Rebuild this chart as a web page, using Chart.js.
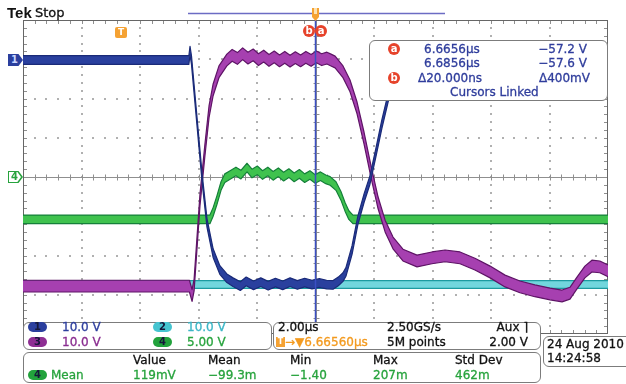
<!DOCTYPE html>
<html>
<head>
<meta charset="utf-8">
<title>Tek scope capture</title>
<script src="https://cdn.jsdelivr.net/npm/chart.js@4.4.1/dist/chart.umd.min.js"></script>
<style>
body { margin: 0; background: #fff; }
#wrap { position: relative; width: 626px; height: 384px; overflow: hidden; font-family: "DejaVu Sans", sans-serif; font-size: 12px; color: #111; }
#scope { position: absolute; left: 0; top: 0; }
.box { position: absolute; background: #fff; border: 1px solid #7c7c7c; border-radius: 6px; box-sizing: border-box; }
.t { position: absolute; white-space: nowrap; line-height: 14px; height: 14px; -webkit-text-stroke: 0.3px currentColor; }
.pill { position: absolute; width: 19px; height: 10px; border-radius: 5px; font-size: 10px; line-height: 10px; text-align: center; font-weight: bold; color: #15173a; }
.dot { position: absolute; width: 12px; height: 12px; border-radius: 6px; background: #e6432b; color: #fff; font-size: 10px; line-height: 12px; text-align: center; font-weight: bold; }
.cur { color: #2f3d9c; }
.tag { position: absolute; width: 15px; height: 12px; clip-path: polygon(0 0, 70% 0, 100% 50%, 70% 100%, 0 100%); }
.tag span { position: absolute; left: 2px; top: 0; width: 9px; font-size: 10px; line-height: 12px; font-weight: bold; text-align: center; }
</style>
</head>
<body>
<div id="wrap">
<canvas id="scope" width="626" height="384"></canvas>

<div class="t" style="left:7px;top:5px;font:bold 15px 'Liberation Sans';line-height:16px;-webkit-text-stroke:0">Tek</div>
<div class="t" style="left:35px;top:5px;font-size:13px;line-height:16px">Stop</div>

<div id="trig" style="position:absolute;width:12px;height:11px;border-radius:2px;background:#f5a233;color:#fff;font-size:9px;line-height:11px;text-align:center;font-weight:bold">T</div>
<div id="dotB" class="dot">b</div>
<div id="dotA" class="dot">a</div>
<div id="tag1" class="tag" style="background:#2b3f9e"><span style="color:#c9d6ff">1</span></div>
<div id="tag4" class="tag" style="background:#27a33d"><div class="tag" style="left:1px;top:1px;width:12px;height:10px;background:#fff"></div><span style="color:#27a33d">4</span></div>

<!-- cursor readout -->
<div class="box" style="left:369px;top:40px;width:239px;height:61px"></div>
<div class="dot" style="left:388px;top:43px">a</div>
<div class="t cur" style="left:424px;top:42px">6.6656µs</div>
<div class="t cur" style="right:39px;top:42px">−57.2 V</div>
<div class="t cur" style="left:424px;top:56px">6.6856µs</div>
<div class="t cur" style="right:39px;top:56px">−57.6 V</div>
<div class="dot" style="left:388px;top:72px">b</div>
<div class="t cur" style="left:418px;top:71px">Δ20.000ns</div>
<div class="t cur" style="right:36px;top:71px">Δ400mV</div>
<div class="t cur" style="left:450px;top:85px">Cursors Linked</div>

<!-- channel settings -->
<div class="box" style="left:23px;top:322px;width:249px;height:28px"></div>
<div class="pill" style="left:28px;top:322px;background:#2b3f9e">1</div>
<div class="t" style="left:62px;top:320px;color:#2e3f9e">10.0 V</div>
<div class="pill" style="left:153px;top:322px;background:#46c4d0">2</div>
<div class="t" style="left:187px;top:320px;color:#3bb6c6">10.0 V</div>
<div class="pill" style="left:28px;top:337px;background:#8e2e93">3</div>
<div class="t" style="left:62px;top:335px;color:#8a2d90">10.0 V</div>
<div class="pill" style="left:153px;top:337px;background:#22a23c">4</div>
<div class="t" style="left:187px;top:335px;color:#27a33d">5.00 V</div>

<!-- timebase -->
<div class="box" style="left:273px;top:322px;width:268px;height:28px"></div>
<div class="t" style="left:278px;top:320px">2.00µs</div>
<div class="t" style="left:387px;top:320px">2.50GS/s</div>
<div class="t" style="right:98px;top:320px">Aux ⌉</div>
<div style="position:absolute;left:276px;top:337px;width:9px;height:10px;background:#f5a233;color:#fff;font-size:8px;line-height:10px;text-align:center;font-weight:bold">T</div>
<div class="t" style="left:285px;top:335px;color:#f39a1f">→▼6.66560µs</div>
<div class="t" style="left:387px;top:335px">5M points</div>
<div class="t" style="right:98px;top:335px">2.00 V</div>

<!-- date -->
<div class="box" style="left:543px;top:336px;width:100px;height:31px"></div>
<div class="t" style="left:547px;top:337px">24 Aug 2010</div>
<div class="t" style="left:547px;top:351px">14:24:58</div>

<!-- measurements -->
<div class="box" id="meas" style="left:23px;top:352px;width:518px;height:31px"></div>
<div class="pill" style="left:28px;top:370px;background:#22a23c">4</div>
<div class="t" style="left:51px;top:368px;color:#27a33d">Mean</div>
</div>

<script>
// time in µs from trigger, trace positions in divisions from screen centre
const ch1Time = [-3.33, 2.34, 2.38, 2.43, 2.79, 2.96, 3.17, 3.40, 3.64, 3.85, 4.10, 4.30, 4.55, 4.80, 5.05, 5.30, 5.55, 5.80, 6.05, 6.30, 6.55, 6.80, 7.05, 7.27, 7.45, 7.61, 7.71, 7.92, 8.12, 8.33, 8.53, 8.74, 8.94, 9.15, 9.35, 9.56, 9.83, 16.67];
const ch1Div  = [2.98, 2.98, 3.22, 2.98, 0.00, -1.17, -1.94, -2.37, -2.58, -2.68, -2.78, -2.66, -2.76, -2.68, -2.77, -2.69, -2.76, -2.68, -2.75, -2.69, -2.74, -2.70, -2.74, -2.75, -2.66, -2.55, -2.42, -1.86, -1.10, -0.54, -0.08, 0.64, 1.35, 2.01, 2.57, 2.88, 2.98, 2.98];

const ch2Time = [-3.33, 16.67];
const ch2Div  = [-2.74, -2.74];

const ch3Time = [-3.33, 2.36, 2.45, 2.52, 2.72, 2.89, 3.03, 3.17, 3.37, 3.64, 3.82, 4.00, 4.18, 4.36, 4.54, 4.72, 4.90, 5.08, 5.26, 5.44, 5.62, 5.80, 5.98, 6.16, 6.34, 6.52, 6.70, 6.88, 7.06, 7.20, 7.34, 7.61, 7.85, 8.09, 8.33, 8.57, 8.81, 9.05, 9.32, 9.66, 10.14, 10.65, 11.10, 11.61, 12.12, 12.64, 13.15, 13.66, 14.17, 14.69, 15.10, 15.37, 15.61, 15.88, 16.12, 16.39, 16.67];
const ch3Div  = [-2.78, -2.78, -3.02, -2.75, -0.59, 0.69, 1.66, 2.22, 2.68, 2.98, 3.10, 3.02, 3.14, 3.03, 3.11, 2.99, 3.08, 2.97, 3.06, 2.96, 3.05, 2.95, 3.04, 2.96, 3.05, 2.97, 3.06, 2.99, 3.03, 2.98, 2.93, 2.68, 2.32, 1.76, 0.99, 0.13, -0.66, -1.25, -1.68, -1.99, -2.14, -2.06, -2.01, -2.06, -2.22, -2.42, -2.65, -2.80, -2.90, -2.98, -3.03, -2.96, -2.70, -2.42, -2.27, -2.29, -2.39];

const ch4Time = [-3.33, 3.06, 3.17, 3.30, 3.44, 3.57, 3.75, 3.95, 4.12, 4.33, 4.50, 4.68, 4.86, 5.04, 5.22, 5.40, 5.58, 5.76, 5.94, 6.12, 6.30, 6.48, 6.66, 6.84, 7.02, 7.17, 7.37, 7.54, 7.68, 7.81, 7.95, 16.67];
const ch4Div  = [-1.08, -1.08, -0.89, -0.59, -0.23, -0.03, 0.05, 0.14, 0.06, 0.24, 0.09, 0.17, 0.05, 0.14, 0.03, 0.12, 0.01, 0.10, -0.01, 0.08, -0.03, 0.05, -0.05, 0.02, -0.06, -0.10, -0.23, -0.48, -0.76, -0.97, -1.08, -1.08];

const ch1Marker = 2.98;   // ground marker of channel 1
const ch4Marker = 0;      // ground marker of channel 4
const triggerTime = 0;
const cursorA = 6.6656;

const measHeads = ['Value', 'Mean', 'Min', 'Max', 'Std Dev'];
const measVals  = ['119mV', '−99.3m', '−1.40', '207m', '462m'];
const measLeft  = [133, 208, 290, 373, 455];

function band(times, divs, half, edge, inner) {
  const up = times.map((t, i) => ({ x: t, y: divs[i] + half }));
  const dn = times.map((t, i) => ({ x: t, y: divs[i] - half }));
  return [
    { data: up, borderColor: edge, borderWidth: 1.2, pointRadius: 0, fill: false },
    { data: dn, borderColor: edge, borderWidth: 1.2, pointRadius: 0, fill: '-1', backgroundColor: inner }
  ];
}

const graticule = {
  id: 'graticule',
  beforeDatasetsDraw(chart) {
    const { ctx, chartArea: a } = chart;
    const dx = (a.right - a.left) / 10, dy = (a.bottom - a.top) / 8;
    const cx = Math.round(a.left + 5 * dx) + 0.5, cy = Math.round(a.top + 4 * dy) + 0.5;
    ctx.save();
    ctx.fillStyle = '#b0b0b0';
    for (let i = 1; i < 10; i++) {
      if (i === 5) continue;
      const x = Math.round(a.left + i * dx);
      for (let k = 1; k < 40; k++) ctx.fillRect(x - 1, Math.round(a.top + k * dy / 5) - 1, 2, 2);
    }
    for (let j = 1; j < 8; j++) {
      if (j === 4) continue;
      const y = Math.round(a.top + j * dy);
      for (let k = 1; k < 50; k++) ctx.fillRect(Math.round(a.left + k * dx / 5) - 1, y - 1, 2, 2);
    }
    ctx.strokeStyle = '#8f8f8f';
    ctx.lineWidth = 1;
    ctx.beginPath();
    ctx.moveTo(a.left, cy); ctx.lineTo(a.right, cy);
    ctx.moveTo(cx, a.top); ctx.lineTo(cx, a.bottom);
    for (let k = 1; k < 50; k++) {
      const x = Math.round(a.left + k * dx / 5) + 0.5;
      ctx.moveTo(x, cy - 3); ctx.lineTo(x, cy + 3);
      ctx.moveTo(x, a.top); ctx.lineTo(x, a.top + 4);
      ctx.moveTo(x, a.bottom); ctx.lineTo(x, a.bottom - 4);
    }
    for (let k = 1; k < 40; k++) {
      const y = Math.round(a.top + k * dy / 5) + 0.5;
      ctx.moveTo(cx - 3, y); ctx.lineTo(cx + 3, y);
      ctx.moveTo(a.left, y); ctx.lineTo(a.left + 4, y);
      ctx.moveTo(a.right, y); ctx.lineTo(a.right - 4, y);
    }
    ctx.stroke();
    ctx.strokeStyle = '#666';
    ctx.strokeRect(a.left + 0.5, a.top + 0.5, a.right - a.left - 1, a.bottom - a.top - 1);
    ctx.restore();
  },
  afterDatasetsDraw(chart) {
    const { ctx, chartArea: a, scales } = chart;
    const x = Math.round(scales.x.getPixelForValue(cursorA)) + 0.5;
    ctx.save();
    // cursor line
    ctx.strokeStyle = '#3b4fc4';
    ctx.lineWidth = 1.5;
    ctx.beginPath(); ctx.moveTo(x, a.top); ctx.lineTo(x, a.bottom); ctx.stroke();
    // record bar and trigger position marker
    ctx.strokeStyle = '#6c6cc4';
    ctx.lineWidth = 1.5;
    ctx.beginPath(); ctx.moveTo(188, 13.5); ctx.lineTo(445, 13.5); ctx.stroke();
    ctx.fillStyle = '#f5a233';
    ctx.fillRect(x - 3.5, 8, 7, 9);
    ctx.beginPath(); ctx.moveTo(x - 3.5, 17); ctx.lineTo(x + 3.5, 17); ctx.lineTo(x, 21); ctx.fill();
    ctx.fillStyle = '#fde2b0';
    ctx.fillRect(x - 1.5, 8, 3, 6);
    ctx.restore();
  }
};

const datasets = [
  ...band(ch1Time, ch1Div, 0.11, '#1a2a78', '#2a409e'),
  ...band(ch3Time, ch3Div, 0.15, '#5e1466', '#a640b0'),
  ...band(ch4Time, ch4Div, 0.11, '#15803a', '#3fc24e'),
  ...band(ch2Time, ch2Div, 0.10, '#1d9aa0', '#72d6dd')
];

const chart = new Chart(document.getElementById('scope'), {
  type: 'line',
  data: { datasets },
  plugins: [graticule],
  options: {
    responsive: false,
    animation: false,
    devicePixelRatio: 1,
    layout: { padding: { left: 23, right: 18, top: 20, bottom: 50 } },
    elements: { line: { tension: 0, borderJoinStyle: 'round' } },
    plugins: { legend: { display: false }, tooltip: { enabled: false } },
    scales: {
      x: { type: 'linear', min: -3.33, max: 16.67, display: false },
      y: { type: 'linear', min: -4, max: 4, display: false }
    }
  }
});

// markers placed through the chart's scales
const sx = chart.scales.x, sy = chart.scales.y;
const place = (id, left, top) => { const el = document.getElementById(id); el.style.left = left + 'px'; el.style.top = top + 'px'; };
const cx = sx.getPixelForValue(cursorA);
place('dotB', Math.round(cx - 12), 25);
place('dotA', Math.round(cx), 25);
place('trig', Math.round(sx.getPixelForValue(triggerTime) - 5), 27);
place('tag1', 8, Math.round(sy.getPixelForValue(ch1Marker) - 6));
place('tag4', 8, Math.round(sy.getPixelForValue(ch4Marker) - 6));

const wrap = document.getElementById('wrap');
measHeads.forEach((h, i) => {
  const a = document.createElement('div');
  a.className = 't'; a.textContent = h;
  a.style.left = measLeft[i] + 'px'; a.style.top = '353px';
  wrap.appendChild(a);
  const b = document.createElement('div');
  b.className = 't'; b.textContent = measVals[i];
  b.style.left = measLeft[i] + 'px'; b.style.top = '368px'; b.style.color = '#27a33d';
  wrap.appendChild(b);
});
</script>
</body>
</html>
